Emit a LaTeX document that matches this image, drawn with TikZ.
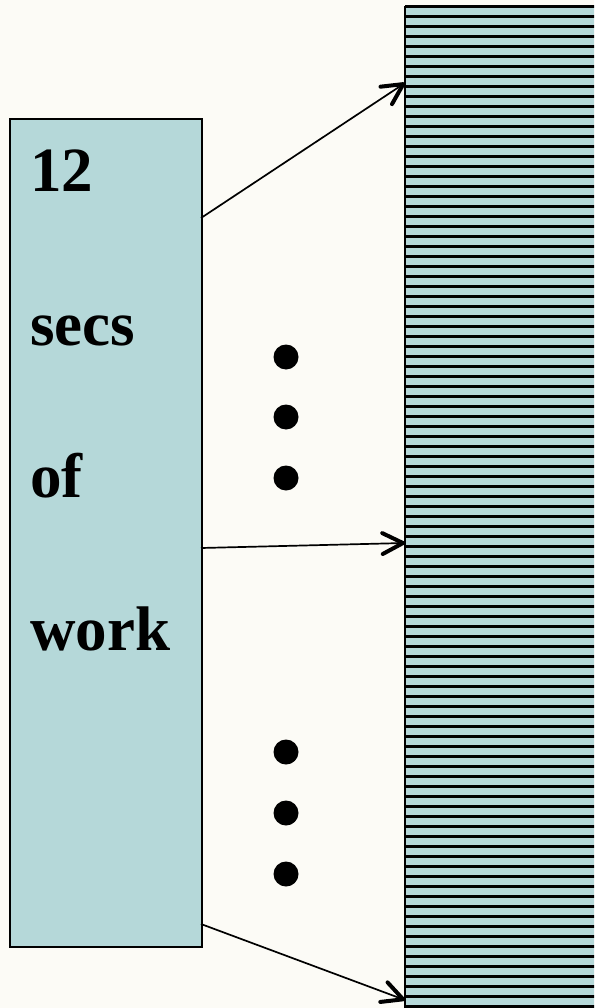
\documentclass[tikz,border=0pt]{standalone}
\usepackage{fontspec}
\setmainfont{Liberation Serif}
\usetikzlibrary{calc}
\definecolor{bg}{HTML}{FCFBF6}
\definecolor{boxfill}{HTML}{B5D8D9}
\tikzset{
  lbl/.style={anchor=base west, inner sep=0pt, font=\fontsize{63}{70}\selectfont\bfseries},
  dot/.style={circle, fill=black, minimum size=25pt, inner sep=0pt},
  conn/.style={line width=1.7pt},
  head/.style={line width=4pt, line cap=round, line join=round},
}
\newcommand{\arrowhead}[2]{%
  \coordinate (ap) at ($(#2)!2pt!(#1)$);
  \draw[head] ($(ap)!23pt!27:(#1)$) -- (ap) -- ($(ap)!23pt!-27:(#1)$);
}
\begin{document}
\begin{tikzpicture}[x=1pt,y=-1pt]
\useasboundingbox (0,0) rectangle (594,1008);
\fill[bg] (0,0) rectangle (594,1008);
\begin{scope}
\clip (0,0) rectangle (594,1008);
\fill[boxfill] (405,6) rectangle (600,1012);
\foreach \k in {0,...,100} {
  \draw[line width=3pt] (405,{6.5+\k*10}) -- (600,{6.5+\k*10});
}
\draw[line width=2pt] (405,6) -- (405,1012);
\end{scope}
\coordinate (t1) at (405,83);
\coordinate (t2) at (405,543);
\coordinate (t3) at (405,1000);
\node[draw=black, line width=1.6pt, fill=boxfill, minimum width=192pt, minimum height=828pt, inner sep=0pt, anchor=north west] (box) at (9,118) {};
\node[lbl] (l1) at (30,192) {12};
\node[lbl] (l2) at (30,345) {secs};
\node[lbl] (l3) at (30,497) {of};
\node[lbl] (l4) at (30,650) {work};
\coordinate (s1) at (201,218);
\coordinate (s2) at (201,548);
\coordinate (s3) at (201,924);
\draw[conn] (s1) -- ($(t1)!3pt!(s1)$);
\draw[conn] (s2) -- ($(t2)!3pt!(s2)$);
\draw[conn] (s3) -- ($(t3)!3pt!(s3)$);
\arrowhead{s1}{t1}
\arrowhead{s2}{t2}
\arrowhead{s3}{t3}
\node[dot] (d1) at (286,357) {};
\node[dot] (d2) at (286,417) {};
\node[dot] (d3) at (286,478) {};
\node[dot] (d4) at (286,752) {};
\node[dot] (d5) at (286,813) {};
\node[dot] (d6) at (286,874) {};
\end{tikzpicture}
\end{document}
